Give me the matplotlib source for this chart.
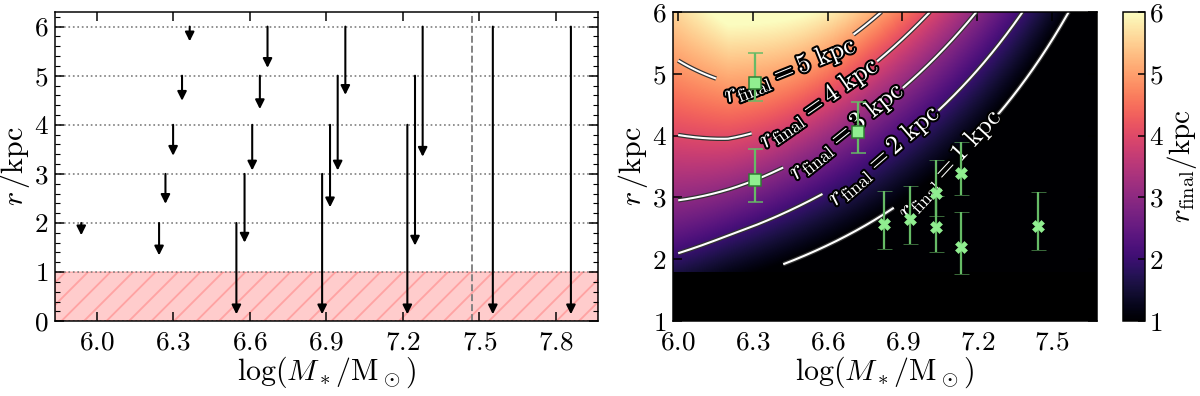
import numpy as np
import matplotlib
matplotlib.use("Agg")
import matplotlib.pyplot as plt
import matplotlib.patheffects as pe
from matplotlib.ticker import AutoMinorLocator

plt.rcParams.update({
    "font.family": "serif",
    "font.serif": ["cmr10"],
    "mathtext.fontset": "cm",
    "axes.unicode_minus": False,
    "axes.formatter.use_mathtext": True,
    "font.size": 14.5,
    "xtick.direction": "in",
    "ytick.direction": "in",
    "xtick.top": True,
    "ytick.right": True,
    "xtick.major.pad": 5,
})

# left panel: upper limits (arrow start) and where each arrow ends
lim_logm = [5.94, 6.245, 6.27, 6.30, 6.335, 6.365, 6.548, 6.58, 6.61, 6.64, 6.67,
            6.884, 6.915, 6.945, 6.975, 7.218, 7.248, 7.278, 7.553, 7.859]
lim_r_top = [2, 2, 3, 4, 5, 6, 2, 3, 4, 5, 6, 3, 4, 5, 6, 4, 5, 6, 6, 6]
lim_r_tip = [1.75, 1.34, 2.39, 3.37, 4.49, 5.70, 0.14, 1.60, 3.07, 4.32, 5.16,
             0.14, 2.32, 3.07, 4.61, 0.14, 1.54, 3.35, 0.14, 0.14]
logm_cut = 7.47

# right panel: measured points
sq_logm = [6.31, 6.31, 6.72]
sq_r = [4.85, 3.28, 4.05]
sq_err_lo = [0.29, 0.35, 0.33]
sq_err_hi = [0.49, 0.51, 0.50]

x_logm = [6.826, 6.930, 7.034, 7.034, 7.135, 7.135, 7.443]
x_r = [2.57, 2.65, 3.07, 2.52, 3.39, 2.20, 2.54]
x_err_lo = [0.40, 0.40, 0.37, 0.41, 0.35, 0.44, 0.39]
x_err_hi = [0.54, 0.53, 0.53, 0.50, 0.51, 0.57, 0.55]

# r_final model (ratio r_final/r vs stellar mass), tuned to the picture
ratio_slope = 0.9
ratio_soft = 0.1
m0_zero, m0_per_dex = 5.42, 1.52
expand_base, expand_k = 0.035, 0.17
contour_levels = [1, 2, 3, 4, 5]
label_pos = [(7.07, 3.6), (6.84, 3.62), (6.68, 4.05), (6.56, 4.55), (6.45, 5.05)]


def r_final(logm, r):
    m0 = m0_zero + m0_per_dex * np.log10(r)
    expand = expand_base - expand_k * (r - 3) * np.clip(6.2 - logm, 0, None)
    decline = ratio_slope * ratio_soft * np.logaddexp(0, (logm - m0) / ratio_soft)
    return r * (1 + expand - decline)


fig = plt.figure(figsize=(1200 / 135, 396 / 135))

# ---- left panel
ax = fig.add_axes([0.0458, 0.189, 0.4525, 0.781])
ax.axhspan(0, 1, facecolor="red", edgecolor="red", alpha=0.2, hatch="//", lw=0.8)
ax.yaxis.grid(True, ls=":", color="grey", lw=0.9)
ax.axvline(logm_cut, color="grey", ls="--", lw=1)
for xm, top, tip in zip(lim_logm, lim_r_top, lim_r_tip):
    ax.annotate("", xy=(xm, tip), xytext=(xm, top),
                arrowprops=dict(arrowstyle="-|>", color="k", lw=1.1,
                                mutation_scale=10, shrinkA=0, shrinkB=0))
ax.set_xlim(5.837, 7.965)
ax.set_ylim(0, 6.3)
ax.set_xticks([6.0, 6.3, 6.6, 6.9, 7.2, 7.5, 7.8])
ax.set_yticks(range(7))
ax.yaxis.set_minor_locator(AutoMinorLocator(5))
ax.tick_params(which="major", length=5)
ax.tick_params(which="minor", length=2.5)
ax.set_xlabel(r"$\log(M_*/\mathrm{M}_\odot)$", fontsize=16, labelpad=0)
ax.set_ylabel(r"$r\,/\mathrm{kpc}$", fontsize=16, labelpad=1)

# ---- right panel
ax2 = fig.add_axes([0.561, 0.189, 0.353, 0.781])
ax2.set_facecolor("black")
gm, gr = np.meshgrid(np.linspace(5.98, 7.70, 400), np.linspace(1.8, 6.0, 300))
im = ax2.imshow(r_final(gm, gr), origin="lower", extent=[5.98, 7.70, 1.8, 6.0],
                aspect="auto", cmap="magma", vmin=1, vmax=6)
cm_, cr_ = np.meshgrid(np.linspace(6.0, 7.70, 400), np.linspace(1.92, 6.0, 300))
cs = ax2.contour(cm_, cr_, r_final(cm_, cr_), levels=contour_levels,
                 colors="white", linewidths=1.1)
cs.set(path_effects=[pe.withStroke(linewidth=2.4, foreground="#333333")])
fmt = {lv: r"$r_{\rm final} = %d\ {\rm kpc}$" % lv for lv in contour_levels}
labels = ax2.clabel(cs, fmt=fmt, manual=label_pos, inline=True, fontsize=14,
                    inline_spacing=4, colors="white")
for t in labels:
    t.set_path_effects([pe.withStroke(linewidth=2.2, foreground="black")])

ax2.errorbar(sq_logm, sq_r, yerr=[sq_err_lo, sq_err_hi], fmt="s", ms=6,
             mfc="lightgreen", mec="#2e7d32", mew=0.8, ecolor="#66bb66",
             elinewidth=1.2, capsize=4, capthick=1.2, zorder=5)
ax2.errorbar(x_logm, x_r, yerr=[x_err_lo, x_err_hi], fmt="X", ms=6.5,
             mfc="lightgreen", mec="lightgreen", mew=0.3, ecolor="#66bb66",
             elinewidth=1.2, capsize=4, capthick=1.2, zorder=5)
ax2.set_xlim(5.98, 7.68)
ax2.set_ylim(1, 6)
ax2.set_xticks([6.0, 6.3, 6.6, 6.9, 7.2, 7.5])
ax2.set_yticks(range(1, 7))
ax2.tick_params(length=5)
ax2.set_xlabel(r"$\log(M_*/\mathrm{M}_\odot)$", fontsize=16, labelpad=0)
ax2.set_ylabel(r"$r\,/\mathrm{kpc}$", fontsize=16, labelpad=1)

cax = fig.add_axes([0.936, 0.189, 0.018, 0.781])
cb = fig.colorbar(im, cax=cax, ticks=range(1, 7))
cb.ax.tick_params(direction="in", length=4, pad=2)
cb.set_label(r"$r_{\rm final}/{\rm kpc}$", fontsize=15.5, labelpad=1)

fig.savefig("out.png", dpi=135)
